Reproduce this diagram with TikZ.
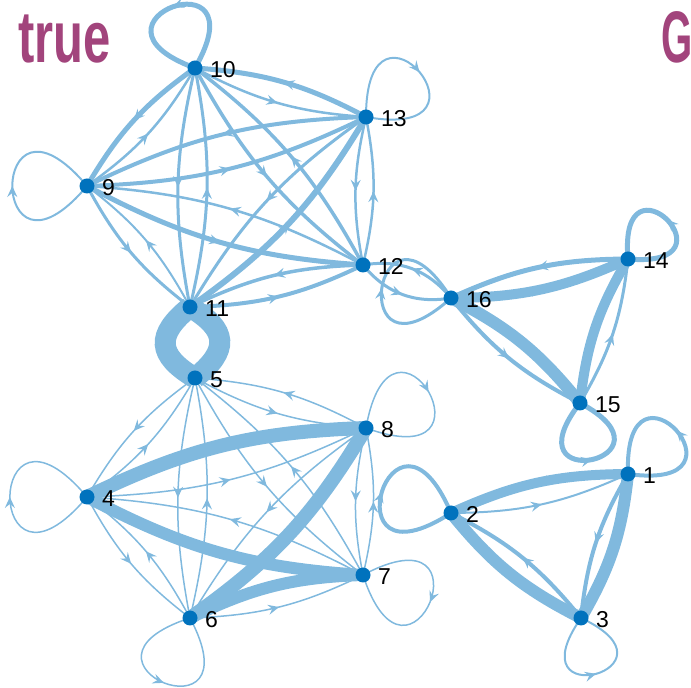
\documentclass[tikz,border=0pt]{standalone}
\usepackage{fontspec}
\setmainfont{Liberation Sans}
\usetikzlibrary{arrows.meta,decorations.markings}
\definecolor{eb}{RGB}{128,185,222}
\definecolor{nb}{RGB}{0,114,189}
\definecolor{tp}{RGB}{162,68,124}
\pgfdeclarelayer{bg}
\pgfsetlayers{bg,main}
\tikzset{
  vtx/.style={circle,fill=nb,inner sep=0pt,minimum size=15pt},
  lbl/.style={anchor=base west,inner sep=0pt,font=\fontsize{23}{23}\selectfont},
  ttl/.style={anchor=base west,inner sep=0pt,text=tp,font=\bfseries\fontsize{73}{73}\selectfont},
  ed/.style={draw=eb,line width=#1pt,postaction={decorate},
    decoration={markings,mark=at position 0.5 with {\arrow{Stealth[length=11pt,width=10pt,inset=4pt]}}}},
  ed/.default=1.5,
  br/.style={bend right=12},
}
\newcommand{\selfloop}[5]{% node, width, out angle, in angle, distance
  \draw[ed=#2] (#1.center) .. controls +(#3:#5) and +(#4:#5) .. (#1.center);}
\begin{document}
\begin{tikzpicture}[x=1pt,y=1pt]
\useasboundingbox (0,0) rectangle (691,688);
% titles
\node[ttl,xscale=0.67] (ttrue) at (18,625) {true};
\node[ttl,xscale=0.55] (tG) at (661,625) {G};
% vertices
\foreach \n/\x/\y in {10/195/620,13/366/571,9/87/502,12/363/423,11/190/381,16/451/390,
  14/628/429,15/580/285,5/195/310,8/366/260,4/87/191,2/451/175,1/628/214,7/363/113,6/190/70,3/581/70}{
  \node[vtx] (n\n) at (\x,\y) {};
  \node[lbl] (l\n) at (\x+15,\y-10) {\n};
}
\begin{pgfonlayer}{bg}
% upper group
\draw[ed=2.5] (n10.center) to[br] (n13.center);
\draw[ed=5]   (n13.center) to[br] (n10.center);
\draw[ed=5]   (n10.center) to[br] (n9.center);
\draw[ed=2.5] (n9.center)  to[br] (n10.center);
\draw[ed=3]   (n10.center) to[br] (n11.center);
\draw[ed=3]   (n11.center) to[br] (n10.center);
\draw[ed=3.5] (n10.center) to[br] (n12.center);
\draw[ed=3.5] (n12.center) to[br] (n10.center);
\draw[ed=4]   (n9.center)  to[br] (n13.center);
\draw[ed=4]   (n13.center) to[br] (n9.center);
\draw[ed=5]   (n9.center)  to[br] (n12.center);
\draw[ed=2.5] (n12.center) to[br] (n9.center);
\draw[ed=3]   (n9.center)  to[br] (n11.center);
\draw[ed=2]   (n11.center) to[br] (n9.center);
\draw[ed=6]   (n11.center) to[br] (n13.center);
\draw[ed=3]   (n13.center) to[br] (n11.center);
\draw[ed=4]   (n11.center) to[br] (n12.center);
\draw[ed=3.5] (n12.center) to[br] (n11.center);
\draw[ed=2.5] (n12.center) to[br] (n13.center);
\draw[ed=2.5] (n13.center) to[br] (n12.center);
\draw[ed=21]  (n11.center) to[bend right=55,looseness=1.6] (n5.center);
\draw[ed=21]  (n5.center)  to[bend right=55,looseness=1.6] (n11.center);
\draw[ed=3]   (n12.center) to[bend right=30] (n16.center);
\draw[ed=3]   (n16.center) to[bend right=30] (n12.center);
% lower group
\draw[ed=14]  (n8.center) to[br] (n4.center);
\draw[ed]     (n4.center) to[br] (n8.center);
\draw[ed=12]  (n4.center) to[br] (n7.center);
\draw[ed]     (n7.center) to[br] (n4.center);
\draw[ed=14]  (n6.center) to[br] (n8.center);
\draw[ed]     (n8.center) to[br] (n6.center);
\draw[ed=12]  (n7.center) to[br] (n6.center);
\draw[ed]     (n6.center) to[br] (n7.center);
\draw[ed]     (n4.center) to[br] (n5.center);
\draw[ed]     (n5.center) to[br] (n4.center);
\draw[ed]     (n4.center) to[br] (n6.center);
\draw[ed]     (n6.center) to[br] (n4.center);
\draw[ed]     (n5.center) to[br] (n6.center);
\draw[ed]     (n6.center) to[br] (n5.center);
\draw[ed]     (n5.center) to[br] (n7.center);
\draw[ed]     (n7.center) to[br] (n5.center);
\draw[ed]     (n5.center) to[br] (n8.center);
\draw[ed]     (n8.center) to[br] (n5.center);
\draw[ed]     (n7.center) to[br] (n8.center);
\draw[ed]     (n8.center) to[br] (n7.center);
% triangle 14 15 16
\draw[ed=10]  (n16.center) to[br] (n14.center);
\draw[ed=5]   (n14.center) to[br] (n16.center);
\draw[ed=12]  (n15.center) to[br] (n16.center);
\draw[ed=4]   (n16.center) to[br] (n15.center);
\draw[ed=10]  (n14.center) to[br] (n15.center);
\draw[ed=3]   (n15.center) to[br] (n14.center);
% triangle 1 2 3
\draw[ed=10]  (n1.center) to[br] (n2.center);
\draw[ed=2]   (n2.center) to[br] (n1.center);
\draw[ed=12]  (n2.center) to[br] (n3.center);
\draw[ed=4]   (n3.center) to[br] (n2.center);
\draw[ed=12]  (n3.center) to[br] (n1.center);
\draw[ed=4]   (n1.center) to[br] (n3.center);
% self loops
\selfloop{n10}{5}{60}{160}{135}
\selfloop{n13}{2}{90}{-10}{145}
\selfloop{n9}{2}{230}{130}{155}
\selfloop{n16}{3}{222}{122}{145}
\selfloop{n14}{5}{-5}{95}{115}
\selfloop{n15}{5}{232}{332}{120}
\selfloop{n1}{4}{-8}{92}{135}
\selfloop{n2}{4}{213}{113}{150}
\selfloop{n3}{2}{235}{335}{120}
\selfloop{n4}{1.5}{230}{130}{160}
\selfloop{n6}{1.5}{198}{298}{145}
\selfloop{n7}{1.5}{28}{-72}{150}
\selfloop{n8}{1.5}{80}{-20}{150}
\end{pgfonlayer}
\end{tikzpicture}
\end{document}
